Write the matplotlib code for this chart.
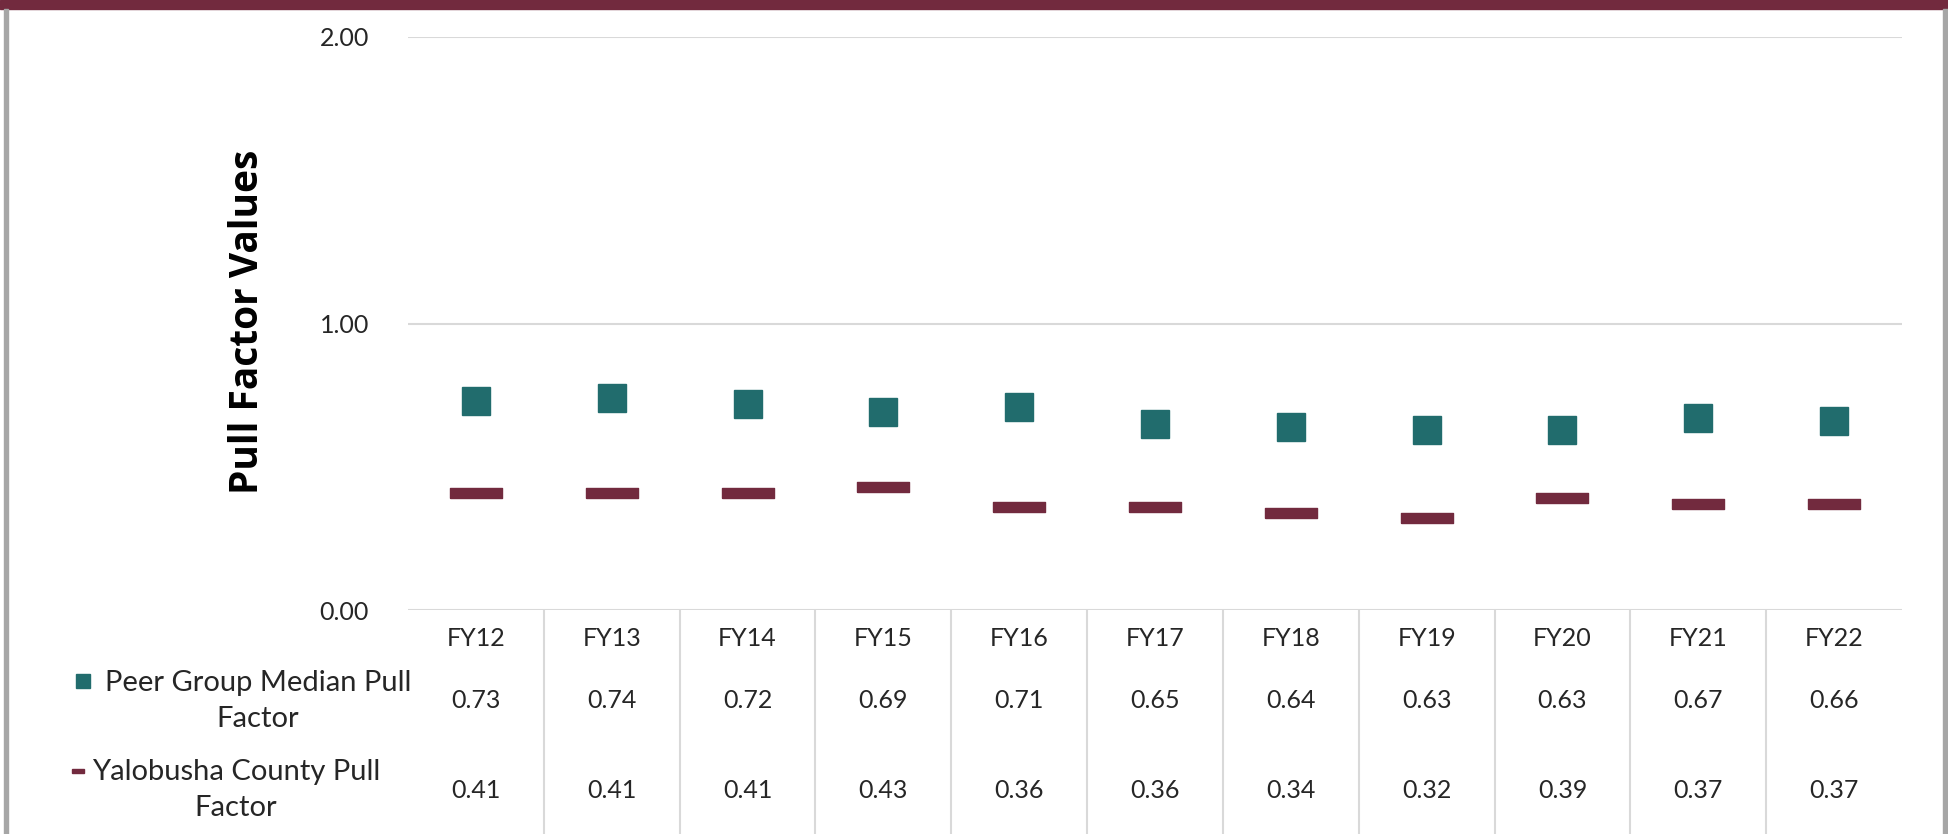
import matplotlib
matplotlib.use("Agg")
import matplotlib.pyplot as plt
import matplotlib.transforms as mtransforms
from matplotlib.patches import Rectangle

# --- data ---
years = ['FY12', 'FY13', 'FY14', 'FY15', 'FY16', 'FY17', 'FY18', 'FY19', 'FY20', 'FY21', 'FY22']
peer_median = [0.73, 0.74, 0.72, 0.69, 0.71, 0.65, 0.64, 0.63, 0.63, 0.67, 0.66]
county = [0.41, 0.41, 0.41, 0.43, 0.36, 0.36, 0.34, 0.32, 0.39, 0.37, 0.37]
peer_label = 'Peer Group Median Pull\nFactor'
county_label = 'Yalobusha County Pull\nFactor'
y_ticks = [0.0, 1.0, 2.0]

TEAL = '#216c6d'
MAROON = '#722a3e'
GRID = '#d9d9d9'
TXT = '#262626'

plt.rcParams['font.family'] = ['Lato', 'DejaVu Sans']

W, H = 1949, 834
fig = plt.figure(figsize=(W / 100, H / 100), dpi=100)
fig.patch.set_facecolor('white')

# frame: maroon top bar, grey side borders
fig.add_artist(Rectangle((0, 1 - 9 / H), 1, 9 / H, transform=fig.transFigure,
                         color=MAROON, zorder=5))
fig.add_artist(Rectangle((4 / W, 0), 4 / W, 1 - 9 / H, transform=fig.transFigure,
                         color='#a6a6a6', zorder=5))
fig.add_artist(Rectangle((1943 / W, 0), 5 / W, 1 - 9 / H, transform=fig.transFigure,
                         color='#a6a6a6', zorder=5))

left, right = 408 / W, 1902 / W
bottom, top = 1 - 610 / H, 1 - 37 / H
ax = fig.add_axes([left, bottom, right - left, top - bottom])

x = list(range(len(years)))
ax.plot(x, peer_median, linestyle='none', marker='s', markersize=20,
        color=TEAL, zorder=3)
dash = [(-2.5, -0.5), (2.5, -0.5), (2.5, 0.5), (-2.5, 0.5), (-2.5, -0.5)]
ax.plot(x, county, linestyle='none', marker=dash, markersize=38,
        color=MAROON, zorder=3)

ax.set_xlim(-0.5, len(years) - 0.5)
ax.set_ylim(0, 2)
ax.set_yticks(y_ticks)
ax.set_yticklabels([f'{v:.2f}' for v in y_ticks], fontsize=18, color=TXT)
ax.tick_params(axis='y', length=0, pad=28)
ax.set_xticks([])
ax.yaxis.grid(True, color=GRID, linewidth=1.5)
ax.set_axisbelow(True)
for s in ax.spines.values():
    s.set_visible(False)

fig.text(247 / W, 1 - 322 / H, 'Pull Factor Values', rotation=90,
         ha='center', va='center', fontsize=28, fontweight='bold',
         family=['Open Sans', 'DejaVu Sans'], color='black')

# data table under the axis
tr = mtransforms.blended_transform_factory(ax.transData, ax.transAxes)
ax_h = 610 - 37
def ay(py):
    return (610 - py) / ax_h

bounds = [i + 0.5 for i in x[:-1]]
ax.vlines(bounds, ay(834), 0, transform=tr, colors=GRID, linewidth=1.5,
          clip_on=False)

for i, yr in enumerate(years):
    ax.text(i, ay(638), yr, transform=tr, ha='center', va='center',
            fontsize=18, color=TXT, clip_on=False)
    ax.text(i, ay(701), f'{peer_median[i]:.2f}', transform=tr, ha='center',
            va='center', fontsize=18, color=TXT, clip_on=False)
    ax.text(i, ay(790), f'{county[i]:.2f}', transform=tr, ha='center',
            va='center', fontsize=18, color=TXT, clip_on=False)

# row headers with legend keys
fig.text(258 / W, 1 - 701 / H, peer_label, ha='center', va='center',
         fontsize=21, color=TXT, linespacing=1.5)
fig.add_artist(Rectangle((76 / W, 1 - 688 / H), 14 / W, 14 / H,
                         transform=fig.transFigure, color=TEAL))
fig.text(236 / W, 1 - 790 / H, county_label, ha='center', va='center',
         fontsize=21, color=TXT, linespacing=1.5)
fig.add_artist(Rectangle((72 / W, 1 - 773 / H), 12 / W, 4 / H,
                         transform=fig.transFigure, color=MAROON))

fig.savefig('out.png', dpi=100, facecolor='white')
